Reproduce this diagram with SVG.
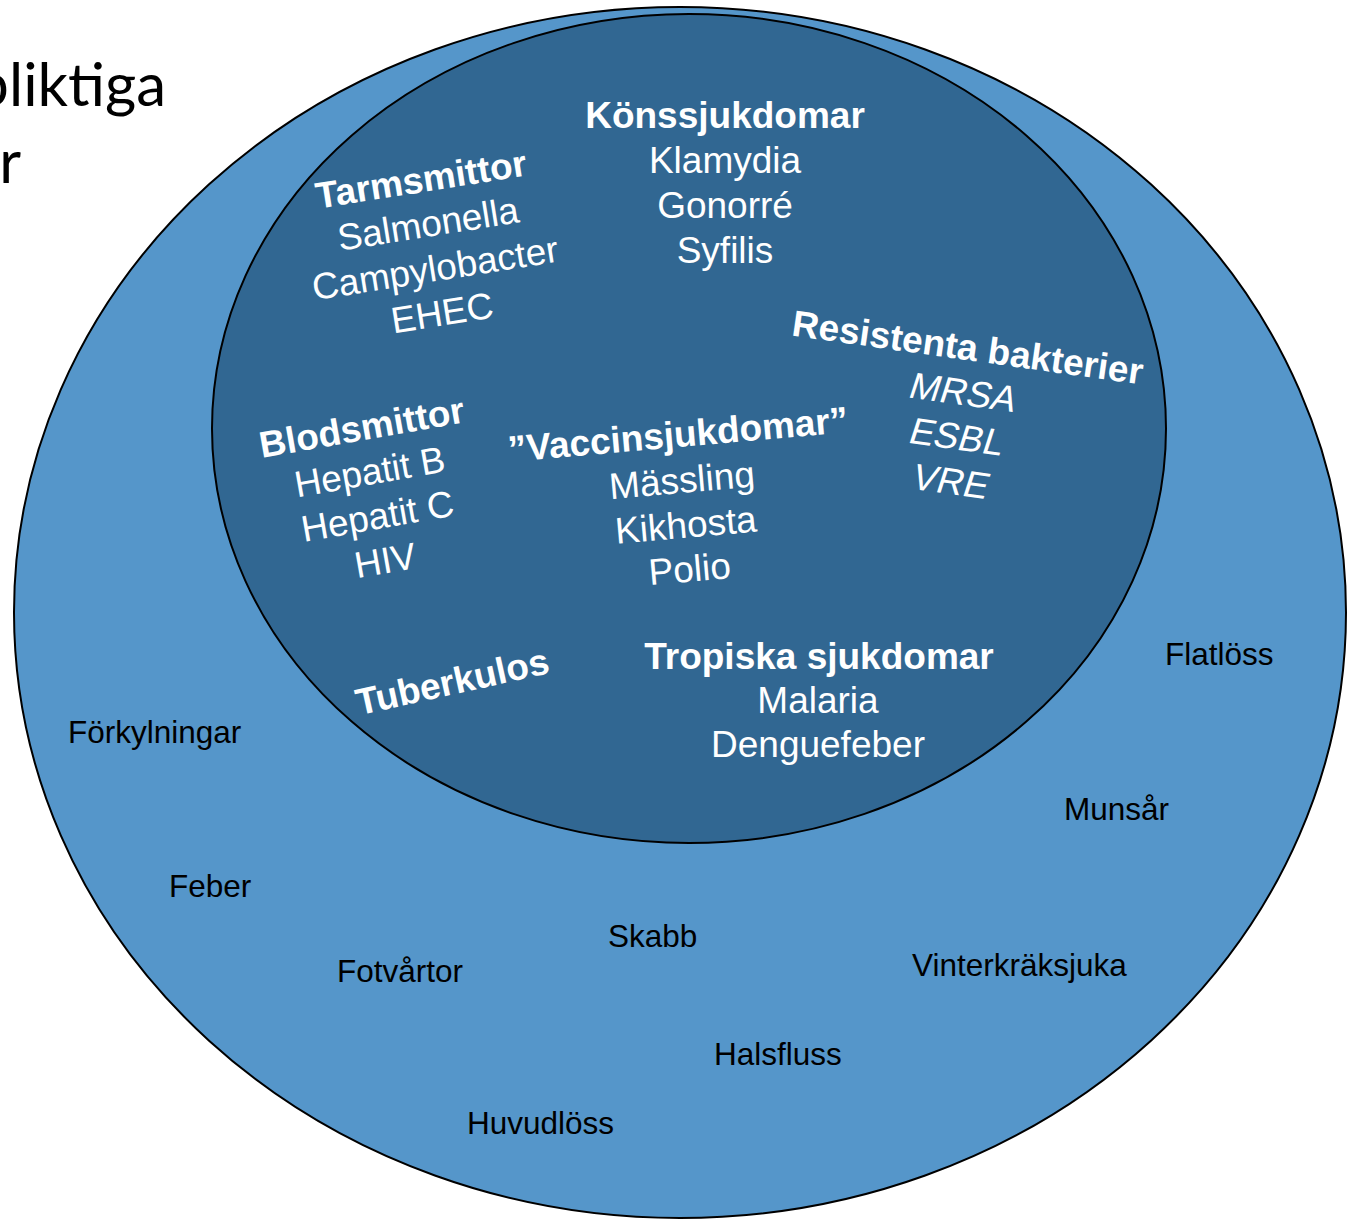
<svg xmlns="http://www.w3.org/2000/svg" width="1354" height="1219" viewBox="0 0 1354 1219">
  <style>
    .title { font-family: Lato, "Open Sans", sans-serif; font-size: 60px; fill: #000; }
    .in { font-family: "Liberation Sans", Arial, sans-serif; font-size: 37px; fill: #fff; text-anchor: middle; }
    .inb { font-weight: bold; }
    .out { font-family: "Liberation Sans", Arial, sans-serif; font-size: 31.5px; fill: #000; }
  </style>
  <rect width="1354" height="1219" fill="#ffffff"/>
  <g id="title">
    <text class="title" x="166" y="106" text-anchor="end">pliktiga</text>
    <text class="title" x="21" y="183" text-anchor="end">r</text>
  </g>
  <g id="outer-circle">
    <ellipse cx="680" cy="612.5" rx="666" ry="605.5" fill="#5596ca" stroke="#000" stroke-width="2"/>
  </g>
  <g id="inner-circle">
    <ellipse cx="689" cy="428.5" rx="477" ry="414.5" fill="#316792" stroke="#000" stroke-width="2"/>
  </g>
  <g id="connectors"></g>
  <g id="konssjukdomar">
    <text class="in inb" x="725" y="128">Könssjukdomar</text>
    <text class="in" x="725" y="173">Klamydia</text>
    <text class="in" x="725" y="218">Gonorré</text>
    <text class="in" x="725" y="263">Syfilis</text>
  </g>
  <g id="tarmsmittor" transform="translate(423,192) rotate(-9)">
    <text class="in inb" x="0" y="0">Tarmsmittor</text>
    <text class="in" x="0" y="45">Salmonella</text>
    <text class="in" x="0" y="90">Campylobacter</text>
    <text class="in" x="0" y="135">EHEC</text>
  </g>
  <g id="resistenta" transform="translate(966,360) rotate(8)">
    <text class="in inb" x="0" y="0">Resistenta bakterier</text>
    <g transform="translate(0,45) skewX(-10)"><text class="in" x="0" y="0">MRSA</text></g>
    <g transform="translate(0,90) skewX(-10)"><text class="in" x="0" y="0">ESBL</text></g>
    <g transform="translate(0,135) skewX(-10)"><text class="in" x="0" y="0">VRE</text></g>
  </g>
  <g id="blodsmittor" transform="translate(364,440) rotate(-10)">
    <text class="in inb" x="0" y="0">Blodsmittor</text>
    <text class="in" x="0" y="45">Hepatit B</text>
    <text class="in" x="0" y="90">Hepatit C</text>
    <text class="in" x="0" y="135">HIV</text>
  </g>
  <g id="vaccinsjukdomar" transform="translate(679,447) rotate(-5)">
    <text class="in inb" x="0" y="0">”Vaccinsjukdomar”</text>
    <text class="in" x="0" y="46">Mässling</text>
    <text class="in" x="0" y="91">Kikhosta</text>
    <text class="in" x="0" y="135">Polio</text>
  </g>
  <g id="tuberkulos" transform="translate(455,694) rotate(-12.5)">
    <text class="in inb" x="0" y="0">Tuberkulos</text>
  </g>
  <g id="tropiska">
    <text class="in inb" x="819" y="669">Tropiska sjukdomar</text>
    <text class="in" x="818" y="713">Malaria</text>
    <text class="in" x="818" y="757">Denguefeber</text>
  </g>
  <g id="vanliga">
    <text class="out" x="68" y="743">Förkylningar</text>
    <text class="out" x="169" y="897">Feber</text>
    <text class="out" x="337" y="982">Fotvårtor</text>
    <text class="out" x="608" y="947">Skabb</text>
    <text class="out" x="714" y="1065">Halsfluss</text>
    <text class="out" x="467" y="1134">Huvudlöss</text>
    <text class="out" x="912" y="976">Vinterkräksjuka</text>
    <text class="out" x="1064" y="820">Munsår</text>
    <text class="out" x="1165" y="665">Flatlöss</text>
  </g>
</svg>
